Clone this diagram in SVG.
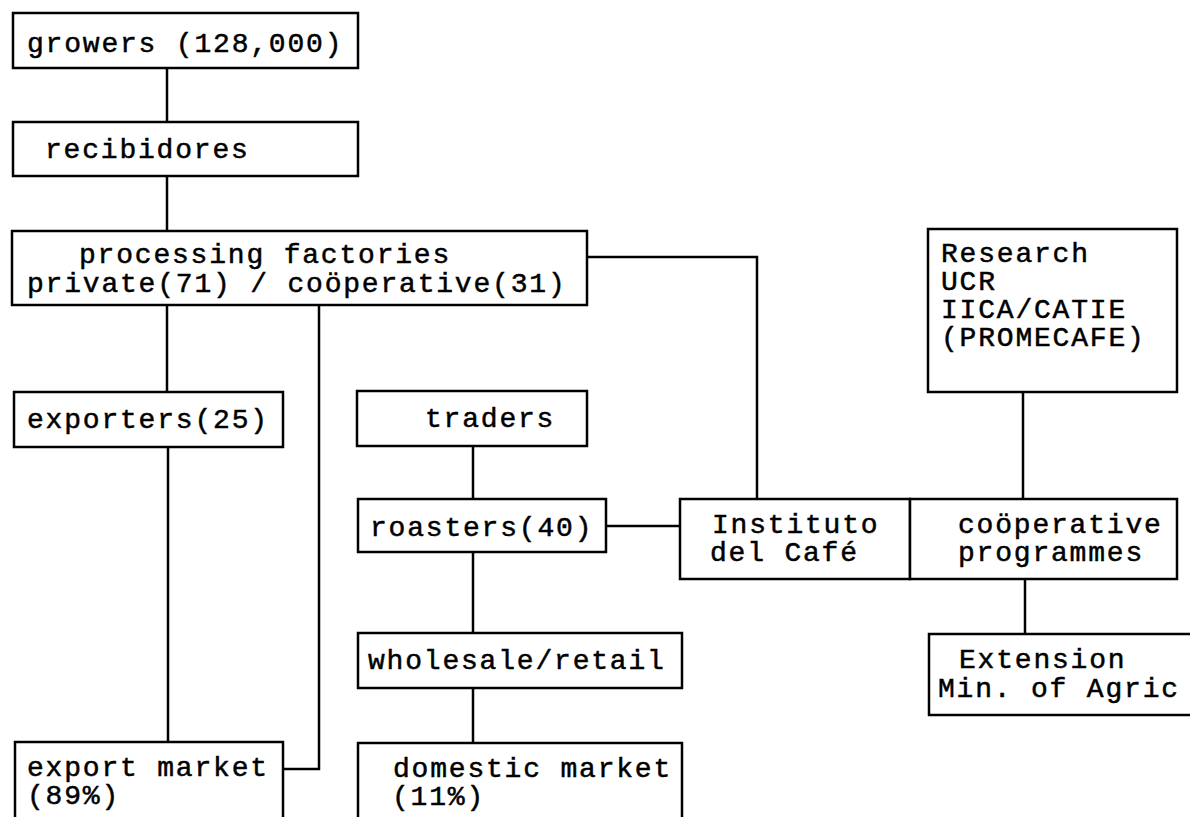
<svg xmlns="http://www.w3.org/2000/svg" width="1190" height="817" viewBox="0 0 1190 817">
<style>
  .box { fill: #ffffff; stroke: #000000; stroke-width: 2.5; }
  .lbl { font-family: "Liberation Mono", "DejaVu Sans Mono", monospace; font-size: 28px; letter-spacing: 1.8px; fill: #000000; stroke: #000000; stroke-width: 0.5; }
  .conn { fill: none; stroke: #000000; stroke-width: 2.5; }
</style>
<rect x="0" y="0" width="1190" height="817" fill="#ffffff"/>
<g id="connectors">
  <path class="conn" d="M167,68 V122"/>
  <path class="conn" d="M167,176 V231"/>
  <path class="conn" d="M167,305 V392"/>
  <path class="conn" d="M168,447 V742"/>
  <path class="conn" d="M319,305 V769 H283"/>
  <path class="conn" d="M473,446 V499"/>
  <path class="conn" d="M473,552 V633"/>
  <path class="conn" d="M473,688 V743"/>
  <path class="conn" d="M606,526 H680"/>
  <path class="conn" d="M587,257 H757 V499"/>
  <path class="conn" d="M1023,392 V499"/>
  <path class="conn" d="M1025,579 V634"/>
</g>
<g id="growers">
  <rect class="box" x="13" y="13" width="345" height="55"/>
  <text class="lbl" x="27" y="52">growers (128,000)</text>
</g>
<g id="recibidores">
  <rect class="box" x="13" y="122" width="345" height="54"/>
  <text class="lbl" x="45" y="158">recibidores</text>
</g>
<g id="processing">
  <rect class="box" x="12" y="231" width="575" height="74"/>
  <text class="lbl" x="79" y="263">processing factories</text>
  <text class="lbl" x="27" y="292">private(71) / coöperative(31)</text>
</g>
<g id="exporters">
  <rect class="box" x="14" y="392" width="269" height="55"/>
  <text class="lbl" x="27" y="428">exporters(25)</text>
</g>
<g id="traders">
  <rect class="box" x="357" y="391" width="230" height="55"/>
  <text class="lbl" x="425" y="427">traders</text>
</g>
<g id="roasters">
  <rect class="box" x="358" y="499" width="248" height="53"/>
  <text class="lbl" x="370" y="536">roasters(40)</text>
</g>
<g id="instituto">
  <rect class="box" x="680" y="499" width="230" height="80"/>
  <text class="lbl" x="712" y="533">Instituto</text>
  <text class="lbl" x="710" y="561">del Café</text>
</g>
<g id="cooperative-programmes">
  <rect class="box" x="910" y="499" width="267" height="80"/>
  <text class="lbl" x="958" y="533">coöperative</text>
  <text class="lbl" x="958" y="561">programmes</text>
</g>
<g id="research">
  <rect class="box" x="928" y="229" width="249" height="163"/>
  <text class="lbl" x="941" y="262">Research</text>
  <text class="lbl" x="941" y="290">UCR</text>
  <text class="lbl" x="941" y="318">IICA/CATIE</text>
  <text class="lbl" x="941" y="346">(PROMECAFE)</text>
</g>
<g id="wholesale-retail">
  <rect class="box" x="358" y="633" width="324" height="55"/>
  <text class="lbl" x="368" y="669">wholesale/retail</text>
</g>
<g id="domestic-market">
  <rect class="box" x="358" y="743" width="324" height="90"/>
  <text class="lbl" x="393" y="777">domestic market</text>
  <text class="lbl" x="392" y="805">(11%)</text>
</g>
<g id="export-market">
  <rect class="box" x="15" y="742" width="268" height="90"/>
  <text class="lbl" x="27" y="776">export market</text>
  <text class="lbl" x="27" y="804">(89%)</text>
</g>
<g id="extension">
  <rect class="box" x="929" y="634" width="280" height="81"/>
  <text class="lbl" x="959" y="668">Extension</text>
  <text class="lbl" x="938" y="697">Min. of Agric</text>
</g>
</svg>
